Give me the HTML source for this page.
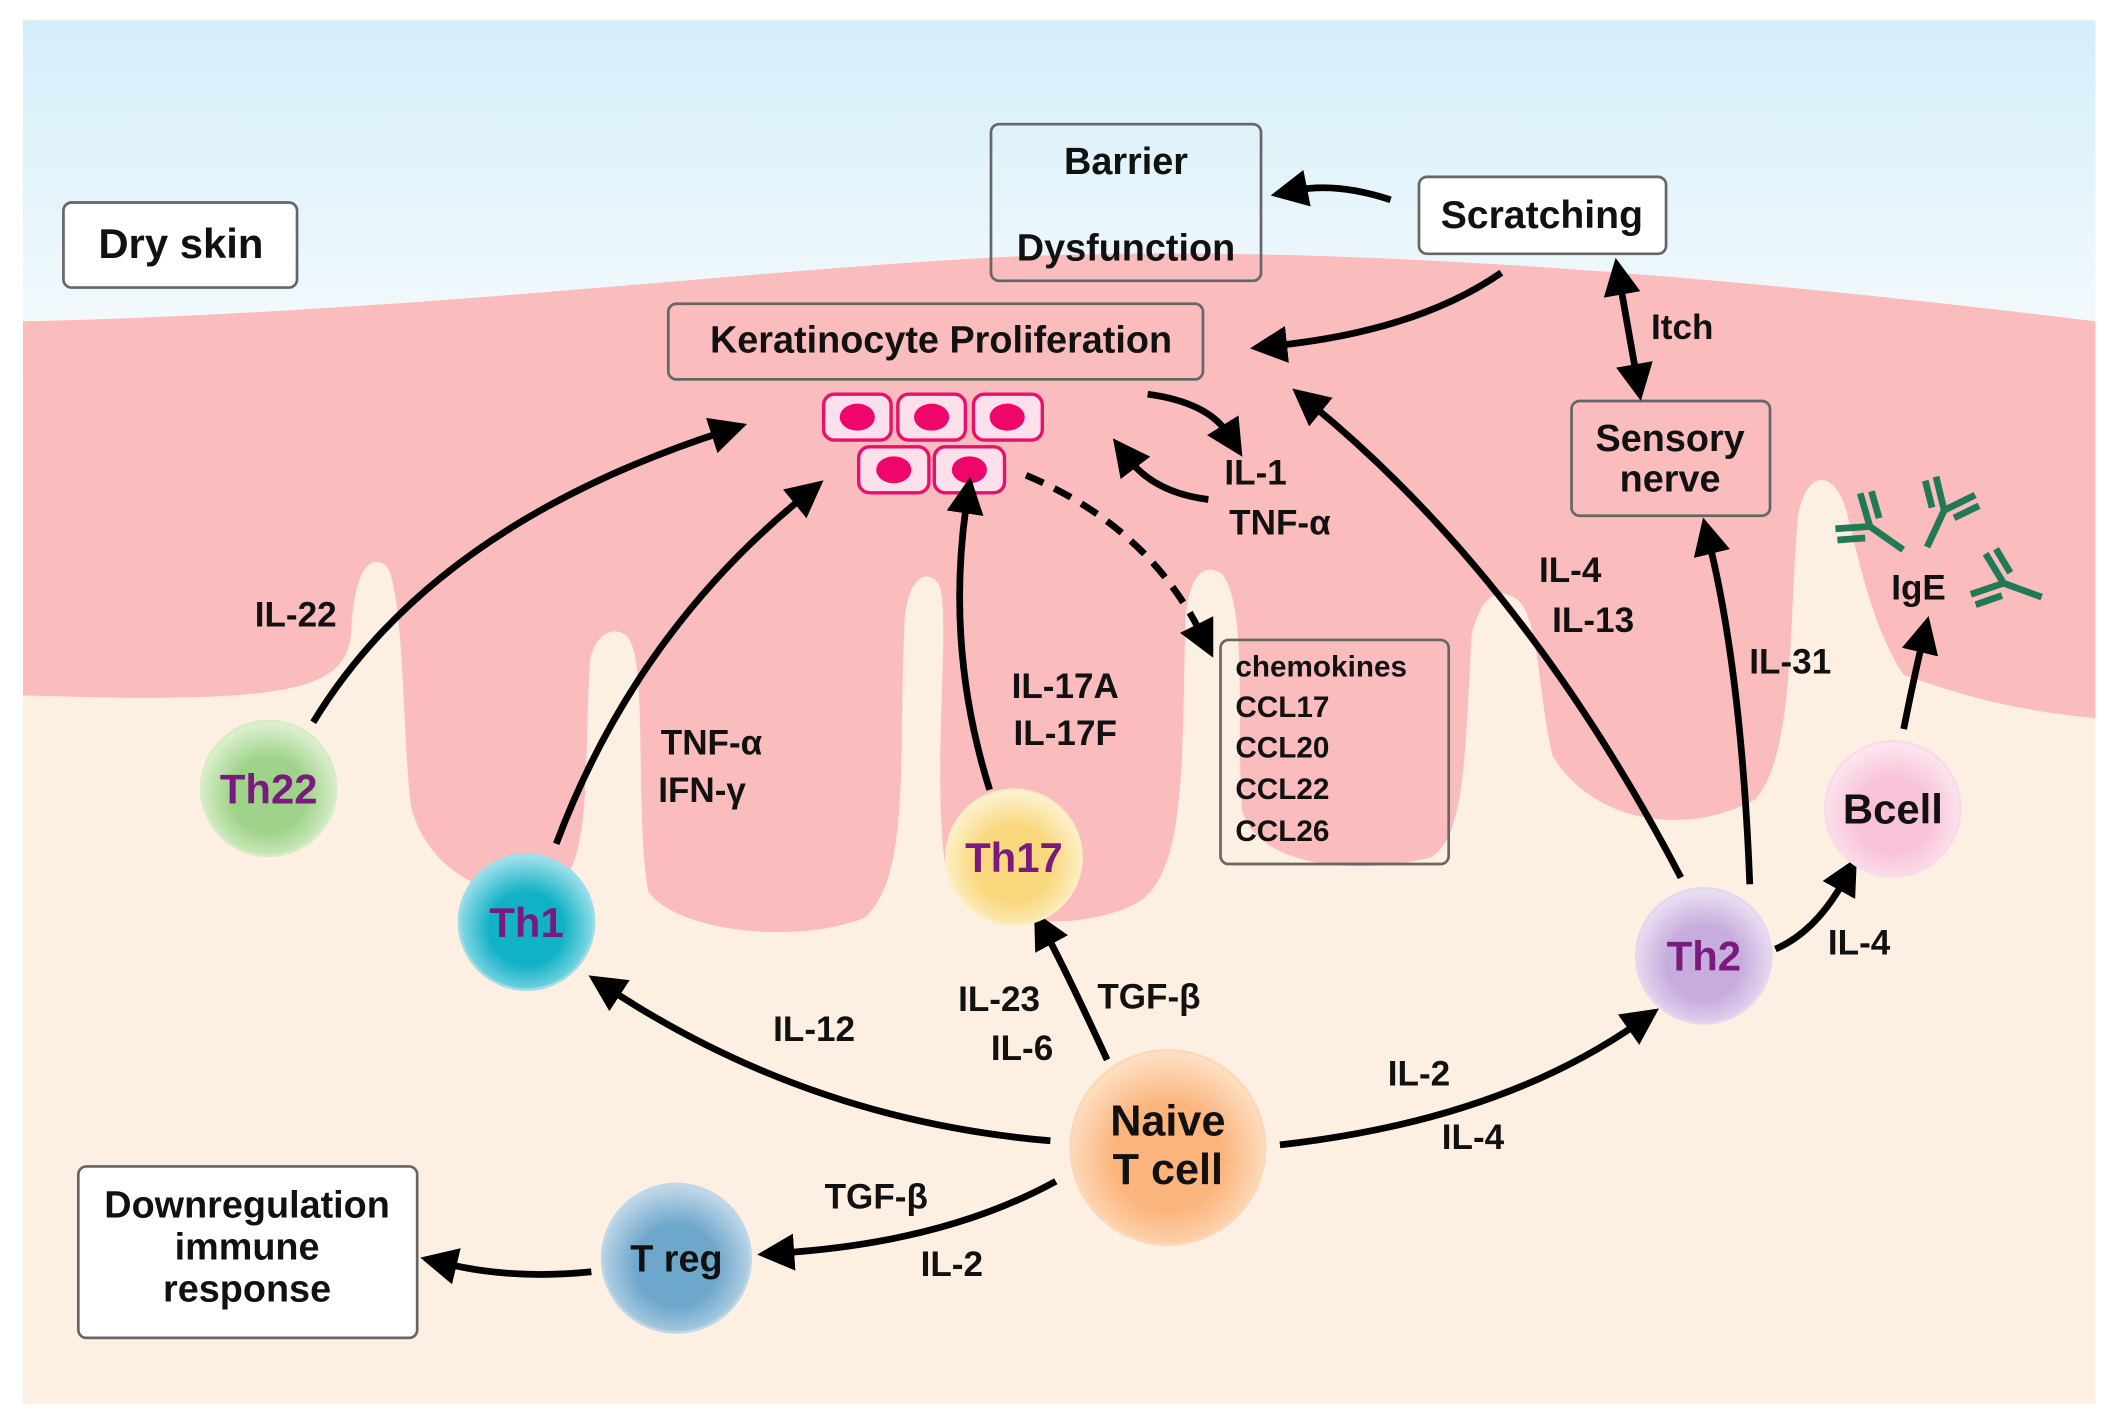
<!DOCTYPE html>
<html><head><meta charset="utf-8"><style>html,body{margin:0;padding:0;background:#fff}svg{display:block}text{font-family:"Liberation Sans",sans-serif;font-weight:bold;fill:#111}</style></head><body>
<svg width="2117" height="1427" viewBox="0 0 1568 1057" preserveAspectRatio="none" xmlns="http://www.w3.org/2000/svg">
<defs>
<linearGradient id="sky" x1="0" y1="0" x2="0" y2="1"><stop offset="0" stop-color="#d4eef9"/><stop offset="1" stop-color="#f7fbfd"/></linearGradient>
<marker id="ah" viewBox="0 0 10 10" refX="3" refY="5" markerWidth="5.5" markerHeight="5.5" orient="auto-start-reverse" markerUnits="strokeWidth"><path d="M0,0 L10,5 L0,10 z" fill="#000"/></marker>
<radialGradient id="g22" cx="0.5" cy="0.55" r="0.55"><stop offset="0.5" stop-color="#9fd38a"/><stop offset="1" stop-color="#e2f2d4"/></radialGradient>
<radialGradient id="g1" cx="0.5" cy="0.55" r="0.55"><stop offset="0.5" stop-color="#12b2c6"/><stop offset="1" stop-color="#a6e2ec"/></radialGradient>
<radialGradient id="g17" cx="0.5" cy="0.55" r="0.55"><stop offset="0.5" stop-color="#f9d77c"/><stop offset="1" stop-color="#fdf3d2"/></radialGradient>
<radialGradient id="g2" cx="0.5" cy="0.55" r="0.55"><stop offset="0.5" stop-color="#c7addd"/><stop offset="1" stop-color="#ece2f4"/></radialGradient>
<radialGradient id="gb" cx="0.5" cy="0.55" r="0.55"><stop offset="0.5" stop-color="#f8c3d9"/><stop offset="1" stop-color="#fde8f1"/></radialGradient>
<radialGradient id="gn" cx="0.5" cy="0.55" r="0.55"><stop offset="0.5" stop-color="#fbb47c"/><stop offset="1" stop-color="#fee2c8"/></radialGradient>
<radialGradient id="gt" cx="0.5" cy="0.55" r="0.55"><stop offset="0.5" stop-color="#6ea7cc"/><stop offset="1" stop-color="#c4dbea"/></radialGradient>
<g id="ab"><path d="M0,0 L0,30 M0,0 L-16,-20 M0,0 L16,-20 M-9,2 L-22,-14 M9,2 L22,-14" stroke="#1f7a55" stroke-width="5" fill="none"/></g>
</defs>
<rect x="17" y="15" width="1535" height="1025" fill="#fdf0e3"/>
<rect x="17" y="15" width="1535" height="260" fill="url(#sky)"/>
<path d="M17,238 C300,232 550,200 750,190 C950,182 1200,195 1552,238 L1552,532
C1480,525 1440,510 1410,500 C1390,470 1380,430 1368,380 C1360,350 1340,345 1332,380 C1325,450 1330,560 1300,592 C1250,620 1180,610 1150,560 C1140,520 1140,460 1125,445 C1105,430 1095,450 1090,470 C1085,560 1085,620 1060,635 C1000,650 930,640 920,600 C915,540 925,450 905,425 C890,415 880,430 878,460 C875,560 880,650 840,670 C800,690 720,690 700,640 C690,570 705,450 695,432 C685,420 672,430 670,460 C665,560 675,650 640,680 C590,700 500,690 480,660 C470,600 480,490 465,472 C455,462 440,470 437,490 C432,560 440,640 410,660 C370,670 320,650 305,600 C298,560 300,430 285,418 C270,410 262,430 260,470 C255,510 220,522 17,515 Z" fill="#fbbcbe"/>
<g fill="none" stroke="#666" stroke-width="2">
<rect x="47" y="150" width="173" height="63" rx="6" fill="#fff"/>
<rect x="734" y="92" width="200" height="116" rx="6"/>
<rect x="1051" y="131" width="183" height="57" rx="6" fill="#fff"/>
<rect x="495" y="225" width="396" height="56" rx="6"/>
<rect x="1164" y="297" width="147" height="85" rx="6"/>
<rect x="904" y="474" width="169" height="166" rx="6"/>
<rect x="58" y="864" width="251" height="127" rx="6" fill="#fff"/>
</g>
<g font-size="28" text-anchor="middle">
<text x="134" y="191" font-size="31">Dry skin</text>
<text x="834" y="129">Barrier</text>
<text x="834" y="193">Dysfunction</text>
<text x="1142" y="169" font-size="29">Scratching</text>
<text x="697" y="261">Keratinocyte Proliferation</text>
<text x="1237" y="334">Sensory</text>
<text x="1237" y="364">nerve</text>
<text x="183" y="902">Downregulation</text>
<text x="183" y="933">immune</text>
<text x="183" y="964">response</text>
</g>
<g font-size="22"><text x="915" y="501">chemokines</text><text x="915" y="531">CCL17</text><text x="915" y="561">CCL20</text><text x="915" y="592">CCL22</text><text x="915" y="623">CCL26</text></g>
<g fill="#fde0ec" stroke="#e8106a" stroke-width="2.5">
<rect x="610" y="292" width="50" height="34" rx="8"/><rect x="665" y="292" width="50" height="34" rx="8"/><rect x="721" y="292" width="51" height="34" rx="8"/>
<rect x="636" y="331" width="52" height="34" rx="8"/><rect x="692" y="331" width="52" height="34" rx="8"/>
</g>
<g fill="#f0066a"><ellipse cx="635" cy="309" rx="13" ry="10"/><ellipse cx="690" cy="309" rx="13" ry="10"/><ellipse cx="746" cy="309" rx="13" ry="10"/><ellipse cx="662" cy="348" rx="13" ry="10"/><ellipse cx="718" cy="348" rx="13" ry="10"/></g>
<g fill="none" stroke="#000" stroke-width="5" marker-end="url(#ah)">
<path d="M232,535 Q320,390 535,320"/>
<path d="M412,625 Q470,470 595,368"/>
<path d="M733,585 Q700,480 716,372"/>
<path d="M760,352 Q850,390 890,470" stroke-dasharray="14,9"/>
<path d="M850,292 Q895,298 910,322"/>
<path d="M895,370 Q855,365 836,340"/>
<path d="M1112,202 Q1050,245 945,256"/>
<path d="M1030,148 Q990,135 960,141"/>
<path d="M1200,210 L1212,278" marker-start="url(#ah)"/>
<path d="M1245,650 Q1130,430 972,300"/>
<path d="M1296,655 Q1290,500 1266,402"/>
<path d="M1315,703 Q1345,690 1366,652"/>
<path d="M1410,540 Q1418,500 1424,475"/>
<path d="M778,845 Q600,830 452,733"/>
<path d="M820,785 Q790,720 775,692"/>
<path d="M948,848 Q1110,830 1213,758"/>
<path d="M782,875 Q700,920 580,928"/>
<path d="M438,942 Q380,948 330,936"/>
</g>
<circle cx="199" cy="584" r="50" fill="url(#g22)" stroke="#d6ebc6" stroke-width="2"/>
<circle cx="390" cy="683" r="50" fill="url(#g1)" stroke="#9fdce8" stroke-width="2"/>
<circle cx="751" cy="635" r="50" fill="url(#g17)" stroke="#fbeec4" stroke-width="2"/>
<circle cx="1262" cy="708" r="50" fill="url(#g2)" stroke="#e3d6ee" stroke-width="2"/>
<circle cx="1402" cy="599" r="50" fill="url(#gb)" stroke="#f9dbe7" stroke-width="2"/>
<circle cx="865" cy="850" r="72" fill="url(#gn)" stroke="#fdd8b8" stroke-width="2"/>
<circle cx="501" cy="932" r="55" fill="url(#gt)" stroke="#bfd6e6" stroke-width="2"/>
<g font-size="31" text-anchor="middle">
<text x="199" y="595" style="fill:#7a1a7e">Th22</text>
<text x="390" y="694" style="fill:#7a1a7e">Th1</text>
<text x="751" y="646" style="fill:#7a1a7e">Th17</text>
<text x="1262" y="719" style="fill:#7a1a7e">Th2</text>
<text x="1402" y="610">Bcell</text>
<text x="865" y="841" font-size="32">Naive</text>
<text x="865" y="877" font-size="32">T cell</text>
<text x="501" y="942" font-size="28">T reg</text>
</g>
<g font-size="26" text-anchor="middle">
<text x="219" y="464">IL-22</text>
<text x="527" y="559">TNF-α</text>
<text x="520" y="594">IFN-γ</text>
<text x="789" y="517">IL-17A</text>
<text x="789" y="552">IL-17F</text>
<text x="930" y="359">IL-1</text>
<text x="948" y="396">TNF-α</text>
<text x="1163" y="431">IL-4</text>
<text x="1180" y="468">IL-13</text>
<text x="1326" y="499">IL-31</text>
<text x="1421" y="444">IgE</text>
<text x="1246" y="251">Itch</text>
<text x="1377" y="707">IL-4</text>
<text x="603" y="771">IL-12</text>
<text x="740" y="749">IL-23</text>
<text x="757" y="785">IL-6</text>
<text x="851" y="747">TGF-β</text>
<text x="1051" y="804">IL-2</text>
<text x="1091" y="851">IL-4</text>
<text x="649" y="895">TGF-β</text>
<text x="705" y="945">IL-2</text>
</g>
<use href="#ab" transform="translate(1385,390) rotate(-55)"/>
<use href="#ab" transform="translate(1440,378) rotate(25)"/>
<use href="#ab" transform="translate(1484,432) rotate(-70)"/>
</svg>
</body></html>
